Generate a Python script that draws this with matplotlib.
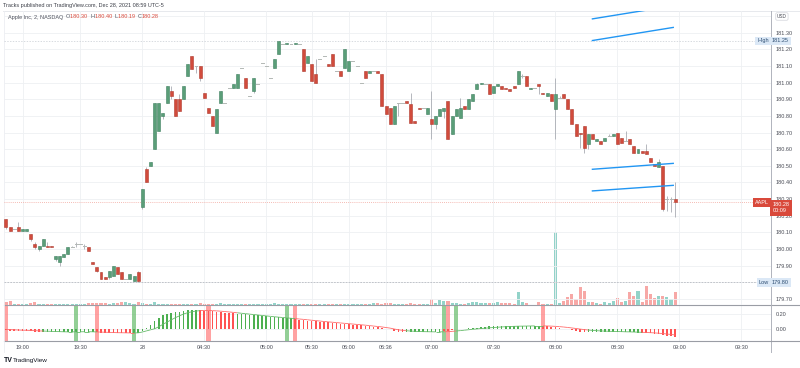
import matplotlib
matplotlib.use("Agg")
import matplotlib.pyplot as plt
from matplotlib.patches import Rectangle
from matplotlib.collections import LineCollection
from matplotlib.lines import Line2D
import matplotlib.transforms as mtransforms

plt.rcParams['font.family'] = ['Liberation Sans', 'DejaVu Sans']

# ---------------- data ----------------
opens = [
    180.18, 180.13, 180.12, 180.13, 180.11, 180.11, 180.09, 180.03, 180.00, 180.02,
    180.02, 180.02, 179.94, 179.92, 179.95, 179.97, 180.01, 180.03, 180.03, 180.02,
    180.01, 179.92, 179.89, 179.86, 179.83, 179.83, 179.84, 179.89, 179.86, 179.82,
    179.82, 179.81, 179.86, 180.25, 180.48, 180.50, 180.60, 180.71, 180.80, 180.88,
    180.95, 180.90, 180.90, 180.90, 181.04, 181.16, 181.10, 181.10, 180.94, 180.85,
    180.80, 180.70, 180.88, 180.88, 180.97, 180.97, 180.97, 181.09, 181.03, 180.92,
    180.95, 180.99, 181.12, 181.10, 181.03, 181.09, 181.17, 181.23, 181.23, 181.23,
    181.23, 181.23, 181.20, 181.12, 181.11, 181.05, 181.14, 181.16, 181.11, 181.17,
    181.07, 181.07, 181.09, 181.07, 181.13, 181.10, 181.00, 181.07, 181.06, 181.07,
    181.07, 181.05, 180.86, 180.85, 180.75, 180.88, 180.88, 180.89, 180.87, 180.77,
    180.85, 180.85, 180.81, 180.78, 180.75, 180.80, 180.83, 180.89, 180.69, 180.80,
    180.79, 180.86, 180.84, 180.89, 180.96, 180.99, 180.99, 180.99, 180.94, 180.98,
    180.98, 180.97, 180.96, 180.98, 180.99, 181.04, 181.04, 180.96, 180.97, 180.99,
    180.94, 180.92, 180.93, 180.84, 180.91, 180.93, 180.90, 180.84, 180.75, 180.70,
    180.74, 180.63, 180.69, 180.65, 180.65, 180.65, 180.68, 180.68, 180.70, 180.67,
    180.65, 180.66, 180.62, 180.58, 180.59, 180.59, 180.55, 180.51, 180.49, 180.50,
    180.30, 180.30, 180.30]
highs = [
    180.18, 180.13, 180.12, 180.16, 180.12, 180.12, 180.09, 180.04, 180.02, 180.06,
    180.04, 180.02, 179.96, 179.96, 179.97, 180.01, 180.02, 180.04, 180.03, 180.03,
    180.01, 179.92, 179.89, 179.86, 179.83, 179.87, 179.90, 179.89, 179.86, 179.82,
    179.85, 179.84, 179.87, 180.36, 180.49, 180.52, 180.88, 180.88, 180.82, 180.98,
    180.98, 180.90, 180.93, 180.98, 181.11, 181.16, 181.10, 181.10, 180.94, 180.85,
    180.80, 180.84, 180.95, 180.88, 180.97, 180.99, 181.05, 181.09, 181.03, 180.92,
    181.03, 180.99, 181.12, 181.10, 181.03, 181.14, 181.25, 181.23, 181.24, 181.23,
    181.24, 181.23, 181.20, 181.16, 181.11, 181.14, 181.14, 181.16, 181.11, 181.17,
    181.07, 181.07, 181.20, 181.13, 181.13, 181.10, 181.00, 181.07, 181.07, 181.07,
    181.07, 181.05, 180.86, 180.85, 180.86, 180.88, 180.88, 180.89, 180.94, 180.77,
    180.85, 180.85, 180.85, 180.95, 180.80, 180.84, 180.85, 180.89, 180.80, 180.84,
    180.91, 180.86, 180.90, 180.93, 181.00, 181.00, 180.99, 180.99, 180.98, 180.99,
    180.98, 180.97, 180.96, 180.98, 181.07, 181.05, 181.04, 180.97, 180.97, 180.99,
    180.94, 180.94, 180.93, 181.03, 180.92, 180.93, 180.90, 180.84, 180.75, 180.70,
    180.74, 180.69, 180.69, 180.66, 180.65, 180.67, 180.69, 180.69, 180.70, 180.67,
    180.71, 180.66, 180.62, 180.60, 180.59, 180.63, 180.55, 180.51, 180.54, 180.50,
    180.32, 180.31, 180.40]
lows = [
    180.12, 180.11, 180.12, 180.11, 180.11, 180.11, 180.05, 180.00, 179.99, 180.02,
    180.01, 180.01, 179.93, 179.90, 179.95, 179.97, 180.01, 180.01, 180.03, 180.00,
    179.99, 179.91, 179.86, 179.82, 179.82, 179.82, 179.84, 179.85, 179.82, 179.82,
    179.82, 179.81, 179.80, 180.24, 180.40, 180.50, 180.60, 180.71, 180.78, 180.88,
    180.90, 180.80, 180.83, 180.90, 181.04, 181.08, 181.06, 181.01, 180.91, 180.82,
    180.74, 180.70, 180.88, 180.88, 180.97, 180.97, 180.97, 181.09, 180.97, 180.92,
    180.94, 180.99, 181.12, 181.10, 181.03, 181.09, 181.17, 181.23, 181.23, 181.23,
    181.23, 181.23, 181.07, 181.12, 181.01, 181.00, 181.14, 181.16, 181.10, 181.10,
    181.07, 181.04, 181.09, 181.07, 181.13, 181.10, 181.00, 181.03, 181.06, 181.07,
    181.06, 180.86, 180.81, 180.75, 180.75, 180.80, 180.88, 180.88, 180.76, 180.76,
    180.84, 180.85, 180.81, 180.66, 180.72, 180.80, 180.79, 180.66, 180.69, 180.80,
    180.79, 180.84, 180.84, 180.89, 180.96, 180.99, 180.99, 180.93, 180.94, 180.98,
    180.96, 180.96, 180.95, 180.97, 180.99, 181.03, 180.98, 180.96, 180.97, 180.93,
    180.93, 180.92, 180.89, 180.66, 180.91, 180.91, 180.84, 180.75, 180.68, 180.61,
    180.58, 180.60, 180.66, 180.65, 180.63, 180.65, 180.68, 180.68, 180.63, 180.64,
    180.65, 180.63, 180.58, 180.58, 180.58, 180.57, 180.52, 180.50, 180.49, 180.23,
    180.23, 180.22, 180.19]
closes = [
    180.13, 180.11, 180.12, 180.11, 180.12, 180.12, 180.06, 180.01, 180.02, 180.06,
    180.01, 180.01, 179.96, 179.96, 179.97, 180.01, 180.01, 180.03, 180.03, 180.02,
    179.99, 179.91, 179.87, 179.82, 179.82, 179.87, 179.90, 179.85, 179.82, 179.82,
    179.85, 179.84, 179.81, 180.36, 180.40, 180.52, 180.88, 180.88, 180.82, 180.98,
    180.92, 180.80, 180.83, 180.98, 181.11, 181.08, 181.10, 181.03, 180.91, 180.82,
    180.74, 180.84, 180.95, 180.88, 180.97, 180.99, 181.05, 181.09, 180.97, 180.92,
    181.03, 180.99, 181.12, 181.10, 181.03, 181.14, 181.25, 181.23, 181.24, 181.23,
    181.24, 181.23, 181.07, 181.16, 181.01, 181.00, 181.14, 181.16, 181.10, 181.10,
    181.07, 181.04, 181.20, 181.13, 181.13, 181.10, 181.00, 181.03, 181.07, 181.07,
    181.06, 180.86, 180.81, 180.75, 180.86, 180.88, 180.88, 180.88, 180.76, 180.76,
    180.84, 180.85, 180.85, 180.75, 180.80, 180.84, 180.85, 180.66, 180.80, 180.84,
    180.85, 180.84, 180.90, 180.93, 180.99, 181.00, 180.99, 180.93, 180.98, 180.99,
    180.96, 180.96, 180.95, 180.97, 181.07, 181.04, 180.98, 180.97, 180.97, 180.98,
    180.93, 180.94, 180.89, 180.93, 180.91, 180.91, 180.84, 180.75, 180.68, 180.69,
    180.61, 180.69, 180.66, 180.66, 180.63, 180.67, 180.68, 180.69, 180.63, 180.64,
    180.65, 180.63, 180.58, 180.60, 180.58, 180.57, 180.52, 180.50, 180.52, 180.24,
    180.30, 180.30, 180.28]
volumes_k = [
    3, 4, 1, 1.5, 1, 1, 2.5, 3, 1.5, 1.5, 1, 1, 1.5, 1, 1, 1, 1, 1, 1, 1.5,
    2, 2.5, 2, 2.5, 2, 1.5, 2.5, 2, 3.5, 3, 2, 1.5, 3,
    2, 1.5, 1.5, 3, 1.5, 1, 1, 1.5, 1, 1, 1, 1.5, 1, 1, 2, 1, 1, 1, 1, 2.5, 1, 1, 1, 1, 1.5, 1, 1, 1,
    1, 1, 1, 1, 2.5, 1.5, 1, 1, 1, 1, 1, 1.5, 1, 1.5, 1, 1, 1, 1, 1, 1, 1, 1, 1, 1, 1, 1, 1.5, 1.5,
    2, 2, 1.5, 2, 2, 1.5, 1,
    1, 1.5, 2.5, 1.5, 1, 1, 1.5, 6.5, 2.5, 5.5, 4, 4.5, 2, 2.5, 1.5, 1, 2, 3, 3, 2.5, 2, 2, 2.5,
    3.5, 2, 2, 2.5,
    1.5, 12.7, 2.7, 1.7, 0.5, 0.5, 2.7, 1, 1, 1, 72.7, 1.7, 4.3, 8.3, 11, 6, 18.3, 14.3, 2.7, 2.7,
    1.7, 1, 3.3, 1.7, 3.7, 6.7, 2.7, 3.7, 12.7, 9.3, 14.3, 2.7, 19.3, 11, 6.7, 8.7, 8.7, 7.7, 6, 12.7]
osc = [
    -0.02, -0.025, -0.03, -0.03, -0.03, -0.035, -0.035, -0.04, -0.045, -0.045,
    -0.045, -0.045, -0.045, -0.05, -0.05, -0.045, -0.045, -0.04, -0.04, -0.04,
    -0.04, -0.045, -0.05, -0.055, -0.06, -0.06, -0.06, -0.06, -0.06, -0.06,
    -0.06, -0.055, -0.055,
    -0.03, 0.01, 0.05, 0.10, 0.15, 0.18, 0.205, 0.22, 0.225, 0.232, 0.24, 0.25, 0.255, 0.255,
    0.25, 0.245, 0.24, 0.235, 0.23, 0.225, 0.22, 0.215, 0.21, 0.205, 0.2, 0.195, 0.19,
    0.185, 0.18, 0.175, 0.17, 0.165, 0.16, 0.155, 0.15, 0.145, 0.14,
    0.13, 0.125, 0.12, 0.11, 0.105, 0.1, 0.095, 0.09, 0.085, 0.08,
    0.075, 0.07, 0.065, 0.06, 0.055, 0.05, 0.045, 0.04, 0.03, 0.025,
    0.02, 0.01, 0.0, -0.01, -0.03, -0.04, -0.045, -0.045, -0.045, -0.045,
    -0.045, -0.045, -0.045, -0.045, -0.045, -0.04, -0.035, -0.03, -0.02, -0.01,
    -0.005, 0.0, 0.005, 0.01, 0.015, 0.02, 0.025, 0.03, 0.03, 0.035,
    0.035, 0.04, 0.04, 0.04, 0.04, 0.04, 0.04, 0.04, 0.04, 0.04,
    0.035, 0.03, 0.025, 0.02, 0.01, 0.0, -0.01, -0.02, -0.03, -0.04,
    -0.045, -0.045, -0.045, -0.045, -0.045, -0.045, -0.045, -0.045, -0.045, -0.045,
    -0.05, -0.05, -0.05, -0.055, -0.055, -0.06, -0.065, -0.07, -0.075, -0.085,
    -0.095, -0.1, -0.11]
signal = [
    -0.01, -0.012, -0.015, -0.018, -0.02, -0.022, -0.024, -0.026, -0.03, -0.032,
    -0.034, -0.036, -0.038, -0.04, -0.042, -0.043, -0.043, -0.042, -0.042, -0.041,
    -0.041, -0.042, -0.044, -0.046, -0.048, -0.05, -0.052, -0.054, -0.055, -0.056,
    -0.057, -0.057, -0.056,
    -0.045, -0.03, -0.015, 0.0, 0.027, 0.06, 0.09, 0.12, 0.15, 0.175, 0.2, 0.218, 0.23, 0.24,
    0.245, 0.248, 0.247, 0.245, 0.242, 0.238, 0.233, 0.228, 0.222, 0.216, 0.21, 0.204, 0.198,
    0.192, 0.186, 0.18, 0.174, 0.168, 0.162, 0.157, 0.152, 0.147, 0.142,
    0.137, 0.132, 0.127, 0.121, 0.115, 0.11, 0.104, 0.098, 0.093, 0.088,
    0.083, 0.078, 0.073, 0.068, 0.063, 0.058, 0.053, 0.048, 0.042, 0.036,
    0.03, 0.024, 0.016, 0.008, -0.004, -0.015, -0.022, -0.028, -0.032, -0.035,
    -0.038, -0.04, -0.041, -0.042, -0.043, -0.043, -0.042, -0.04, -0.036, -0.031,
    -0.026, -0.02, -0.014, -0.008, -0.003, 0.002, 0.007, 0.012, 0.016, 0.02,
    0.024, 0.027, 0.03, 0.032, 0.034, 0.035, 0.036, 0.037, 0.038, 0.038,
    0.038, 0.037, 0.035, 0.032, 0.028, 0.023, 0.017, 0.01, 0.003, -0.005,
    -0.012, -0.018, -0.023, -0.027, -0.03, -0.033, -0.035, -0.037, -0.039, -0.04,
    -0.042, -0.043, -0.045, -0.047, -0.049, -0.051, -0.054, -0.057, -0.061, -0.066,
    -0.072, -0.078, -0.085]
# 1 = bullish (green) histogram bar, 0 = bearish (red)
osc_bull = ([0] * 9 + [1] * 13 + [0] * 9 + [1] * 16 + [0] * 9 + [1] * 14 + [0] * 27 +
            [1] * 9 + [0] * 3 + [1] * 21 + [0] * 11 + [1] * 13 + [0] * 9)
cross_up_idx = [17, 31, 68, 106, 109]
cross_dn_idx = [0, 22, 49, 70, 107, 130]

tick_idx = [4, 18, 33, 48, 63, 74, 83, 92, 103, 118, 133, 148, 163, 178]
tick_labels = ['19:00', '19:30', '28', '04:30', '05:00', '05:30', '06:00', '06:36',
               '07:00', '07:30', '08:00', '08:30', '09:00', '09:30']
price_ticks = [179.70, 179.80, 179.90, 180.00, 180.10, 180.20, 180.30, 180.40, 180.50,
               180.60, 180.70, 180.80, 180.90, 181.00, 181.10, 181.20, 181.30]
ind_ticks = [0.00, 0.20]

trend_x = [[141.8, 161.7], [141.8, 161.7], [141.8, 161.7], [141.8, 161.7]]
trend_y = [[181.382, 181.462], [181.252, 181.332], [180.479, 180.515], [180.349, 180.383]]

day_high = 181.25
day_low = 179.80
last_price = 180.28

# ---------------- figure ----------------
W, H = 800, 368
fig = plt.figure(figsize=(W / 100, H / 100), dpi=100)
fig.patch.set_facecolor('white')

def frac(x0, y0, x1, y1):
    return [x0 / W, 1 - y1 / H, (x1 - x0) / W, (y1 - y0) / H]

X0, X1 = 4, 771
vax = fig.add_axes(frac(X0, 11, X1, 305))
ax = fig.add_axes(frac(X0, 11, X1, 305), sharex=vax)
axi = fig.add_axes(frac(X0, 305, X1, 341), sharex=vax)
ax.set_zorder(2)
ax.patch.set_alpha(0)
vax.set_zorder(1)

xlim = (-0.48, 185.2)
vax.set_xlim(*xlim)
ax.set_ylim(179.664, 181.430)
vax.set_ylim(0, 294)
axi.set_ylim(-0.167, 0.322)

grid_c = '#eef0f3'
axis_c = '#b2b5be'
txt_c = '#4a4d57'
up_c, up_edge = '#5a9e78', '#3f8060'
dn_c, dn_edge = '#d14b3c', '#b03a2e'
wick_c = '#a9acb3'
doji_c = '#b3b8b5'
FS = 4.0

# volume
n = len(opens)
idx = list(range(n))
vcolors = ['#93d3c9' if closes[i] >= opens[i] else '#f7a8a6' for i in idx]
vax.bar(idx, volumes_k, width=0.75, color=vcolors, linewidth=0)
vax.axis('off')

# gridlines
for a in (ax, axi):
    for t in tick_idx:
        a.axvline(t, color=grid_c, lw=0.6, zorder=0)
for p in price_ticks + [181.40]:
    ax.axhline(p, color=grid_c, lw=0.6, zorder=0)
for p in ind_ticks:
    axi.axhline(p, color=grid_c, lw=0.6, zorder=0)

# reference lines
ax.axhline(day_high, color='#c8ccd3', lw=0.5, ls=(0, (2, 2)), zorder=1)
ax.axhline(day_low, color='#b9bcc2', lw=0.6, ls=(0, (2, 1.5)), zorder=1)
ax.axhline(last_price, color='#f2a49b', lw=0.6, ls=(0, (1, 1.5)), zorder=1)

# candles
wicks = [[(i, lows[i]), (i, highs[i])] for i in idx if highs[i] > lows[i]]
ax.add_collection(LineCollection(wicks, colors=wick_c, linewidths=0.6, zorder=3))
bw = 0.72
for i in idx:
    o, c = opens[i], closes[i]
    if c > o:
        fc, ec = up_c, up_edge
    elif c < o:
        fc, ec = dn_c, dn_edge
    else:
        ax.add_line(Line2D([i - bw / 2, i + bw / 2], [o, o], color=doji_c, lw=0.7, zorder=4))
        continue
    lo = min(o, c)
    ht = max(abs(c - o), 0.006)
    ax.add_patch(Rectangle((i - bw / 2, lo), bw, ht, facecolor=fc, edgecolor=ec,
                           linewidth=0.4, zorder=4))

# trend lines
for xs, ys in zip(trend_x, trend_y):
    ax.plot(xs, ys, color='#2196f3', lw=1.0, zorder=5, solid_capstyle='butt')

# indicator pane
ylo, yhi = axi.get_ylim()
axi.bar(cross_up_idx, [yhi - ylo] * len(cross_up_idx), bottom=ylo, width=1.05,
        color='#6fbf73', alpha=0.75, linewidth=0, zorder=1)
axi.bar(cross_dn_idx, [yhi - ylo] * len(cross_dn_idx), bottom=ylo, width=1.05,
        color='#ff7b7b', alpha=0.7, linewidth=0, zorder=1)
hcol = ['#4caf50' if b else '#ff5252' for b in osc_bull]
axi.bar(idx, osc, width=0.38, color=hcol, linewidth=0, zorder=2)
segs = [[(i, signal[i]), (i + 1, signal[i + 1])] for i in range(n - 1)]
scol = ['#66bb6a' if osc_bull[i] else '#ff6b6b' for i in range(n - 1)]
axi.add_collection(LineCollection(segs, colors=scol, linewidths=0.6, zorder=3))

# axes styling
for a in (ax, axi):
    a.yaxis.tick_right()
    a.tick_params(axis='y', length=0, pad=3.5, labelsize=FS, labelcolor=txt_c)
    for s in ('left', 'top', 'bottom'):
        a.spines[s].set_visible(False)
    a.spines['right'].set_color(axis_c)
    a.spines['right'].set_linewidth(0.7)
ax.set_yticks(price_ticks)
# the day-low price is shown by its own highlighted label
ax.set_yticklabels(['' if abs(p - day_low) < 1e-9 else '%.2f' % p for p in price_ticks])
axi.set_yticks(ind_ticks)
axi.set_yticklabels(['%.2f' % p for p in ind_ticks])
ax.tick_params(axis='x', length=0, labelbottom=False)
axi.set_xticks(tick_idx)
axi.set_xticklabels(tick_labels)
axi.tick_params(axis='x', length=0, pad=3, labelsize=FS, labelcolor=txt_c)
for s in ('top', 'bottom'):
    axi.spines[s].set_visible(True)
    axi.spines[s].set_color('#9a9da5')
    axi.spines[s].set_linewidth(0.8)
ax.set_xlim(*xlim)

# frame lines in pixel space
def fline(x0, y0, x1, y1, **kw):
    fig.add_artist(Line2D([x0 / W, x1 / W], [1 - y0 / H, 1 - y1 / H], **kw))

fline(3, 11, 800, 11, color='#e3e5ea', lw=0.6)
fline(3.5, 11, 3.5, 352, color='#eceef2', lw=0.6)
fline(771, 11, 771, 352, color=axis_c, lw=0.7)
fline(771, 305, 800, 305, color='#9a9da5', lw=0.8)
fline(771, 341, 800, 341, color='#9a9da5', lw=0.8)

# price-axis labels
bt = mtransforms.blended_transform_factory(fig.transFigure, ax.transData)
lab_kw = dict(transform=bt, fontsize=FS, zorder=20, clip_on=False)
ax.text(772 / W, day_high, '181.25', color='#2f4f73', va='center', ha='left',
        bbox=dict(boxstyle='square,pad=0.35', fc='#dbe8f6', ec='none'), **lab_kw)
ax.text(769 / W, day_high, 'High', color='#2f4f73', va='center', ha='right',
        bbox=dict(boxstyle='square,pad=0.35', fc='#dbe8f6', ec='none'), **lab_kw)
ax.text(772 / W, day_low, '%.2f' % day_low, color='#2f4f73', va='center', ha='left',
        bbox=dict(boxstyle='square,pad=0.35', fc='#dbe8f6', ec='none'), **lab_kw)
ax.text(769 / W, day_low, 'Low', color='#2f4f73', va='center', ha='right',
        bbox=dict(boxstyle='square,pad=0.35', fc='#dbe8f6', ec='none'), **lab_kw)
ax.text(772.5 / W, last_price, '%.2f\n00:09' % last_price, color='white', va='top',
        ha='left', linespacing=1.25,
        bbox=dict(boxstyle='square,pad=0.45', fc='#d9493b', ec='none'), **lab_kw)
ax.text(769 / W, last_price, 'AAPL', color='white', va='center', ha='right',
        bbox=dict(boxstyle='square,pad=0.35', fc='#d9493b', ec='none'), **lab_kw)
fig.text(777 / W, 1 - 16.5 / H, 'USD', fontsize=3.4, color=txt_c, va='center', ha='left',
         bbox=dict(boxstyle='round,pad=0.25', fc='white', ec='#c5c8cf', lw=0.4))

# header / legend / logo
fig.text(3 / W, 1 - 5 / H, 'Tracks published on TradingView.com, Dec 28, 2021 08:59 UTC-5',
         fontsize=FS, color='#3c3f48', va='center', ha='left')
parts = [('Apple Inc, 2, NASDAQ  ', '#50535e'), ('O', '#50535e'), ('%.2f  ' % opens[-1], '#d9493b'),
         ('H', '#50535e'), ('%.2f  ' % highs[-1], '#d9493b'), ('L', '#50535e'),
         ('%.2f  ' % lows[-1], '#d9493b'), ('C', '#50535e'), ('%.2f' % closes[-1], '#d9493b')]
fig.canvas.draw()
r = fig.canvas.get_renderer()
xpos = 8 / W
for s, col in parts:
    t = fig.text(xpos, 1 - 17 / H, s, fontsize=FS, color=col, va='center', ha='left')
    bb = t.get_window_extent(renderer=r)
    xpos += bb.width / W

fig.text(4 / W, 1 - 360.5 / H, 'TV', fontsize=5, color='#131722', va='center', ha='left',
         fontweight='bold')
fig.text(13 / W, 1 - 360.5 / H, 'TradingView', fontsize=4.6, color='#131722', va='center',
         ha='left')

fig.savefig('out.png', dpi=100, facecolor='white')
